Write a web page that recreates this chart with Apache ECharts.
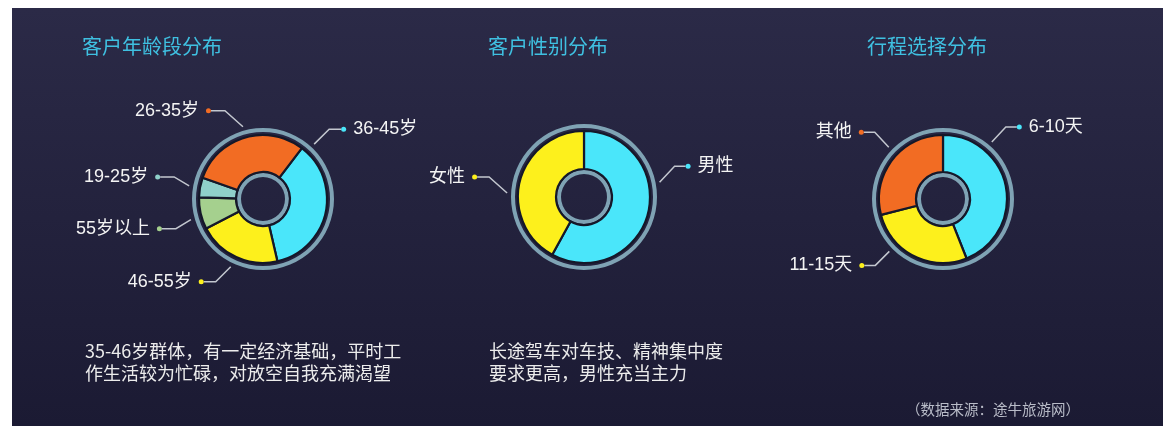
<!DOCTYPE html>
<html><head><meta charset="utf-8">
<script src="https://cdn.jsdelivr.net/npm/echarts@6/dist/echarts.min.js"></script>
<style>
html,body{margin:0;padding:0;background:#fff;width:1163px;height:426px;overflow:hidden}
#bg{position:absolute;left:12px;top:8px;right:0;bottom:0;background:linear-gradient(180deg,#2b2a47 0%,#1b1a33 100%)}
#chart{position:absolute;left:0;top:0;width:1163px;height:426px}
</style></head><body><div id="bg"></div><div id="chart"></div>
<script>
// ---------- data ----------
const ageCategories = ['36-45岁', '46-55岁', '55岁以上', '19-25岁', '26-35岁'];
const ageValues = [36, 21, 8, 5, 30];
const genderCategories = ['男性', '女性'];
const genderValues = [58, 42];
const tripCategories = ['6-10天', '11-15天', '其他'];
const tripValues = [44, 27, 29];
const chartTitles = ['客户年龄段分布', '客户性别分布', '行程选择分布'];
const noteTexts = ['35-46岁群体，有一定经济基础，平时工\n作生活较为忙碌，对放空自我充满渴望', '长途驾车对车技、精神集中度\n要求更高，男性充当主力'];
const sourceText = '（数据来源：途牛旅游网）';

// ---------- styles ----------
const CYAN = '#4ae6fa', YELLOW = '#fdf01c', GREEN = '#a5d08e', TEAL = '#8fd0ca', ORANGE = '#f26c23';
const RING = '#7fa3b4';
const LABEL_FONT = '"Liberation Sans","Noto Sans CJK SC",sans-serif';
const CJK_FONT = '"Noto Sans CJK SC",sans-serif';
const ageColors = [CYAN, YELLOW, GREEN, TEAL, ORANGE];
const genderColors = [CYAN, YELLOW];
const tripColors = [CYAN, YELLOW, ORANGE];
const ageAnchors = [{a: 43, dx: 15, dy: -15, h: 12}, {a: 205.5, dx: 15, dy: 15, h: 12}, {a: 254, dx: 15, dy: 9, h: 14}, {a: 280, dx: 15, dy: -9, h: 14}, {a: 344.5, dx: 18, dy: -16, h: 14}];
const genderAnchors = [{a: 79, dx: 15, dy: -16, h: 11}, {a: 273, dx: 18, dy: -16, h: 12}];
const tripAnchors = [{a: 40.6, dx: 14, dy: -15, h: 11}, {a: 225.7, dx: 14, dy: 14, h: 11}, {a: 313.7, dx: 14, dy: -15, h: 11}];
const titleLeft = [82, 488, 867];

function donut(c) {
  const cx = c.center[0], cy = c.center[1];
  const ring = r => ({
    type: 'pie', center: c.center, radius: r, silent: true, animation: false,
    label: {show: false}, labelLine: {show: false}, emphasis: {disabled: true},
    itemStyle: {color: RING}, data: [{value: 1, name: ''}], z: 1
  });
  const data = c.names.map((n, i) => ({name: n, value: c.values[i], itemStyle: {color: c.colors[i]}}));
  const rich = {
    t: {fontSize: 18, color: '#f4f4f4', fontFamily: LABEL_FONT, verticalAlign: 'middle', lineHeight: 22},
    sp: {width: 7}
  };
  c.colors.forEach((col, i) => { rich['d' + i] = {width: 5, height: 5, borderRadius: 2.5, backgroundColor: col, verticalAlign: 'middle'}; });
  const side = i => Math.sin(c.anchors[i].a * Math.PI / 180) >= 0 ? 1 : -1;
  const main = {
    type: 'pie', center: c.center, radius: c.pieR, startAngle: c.startAngle, clockwise: true,
    avoidLabelOverlap: false, animation: false, emphasis: {disabled: true},
    itemStyle: {borderColor: '#151829', borderWidth: 2.2},
    label: {
      show: true, position: 'outside', rich: rich,
      formatter: p => side(p.dataIndex) > 0
        ? '{d' + p.dataIndex + '|}{sp|}{t|' + p.name + '}'
        : '{t|' + p.name + '}{sp|}{d' + p.dataIndex + '|}'
    },
    labelLine: {show: true, length: 10, length2: 10, lineStyle: {color: '#c3c7cf', width: 1.5}},
    labelLayout: p => {
      const an = c.anchors[p.dataIndex];
      const rad = an.a * Math.PI / 180;
      const s = side(p.dataIndex);
      const x0 = cx + c.labelR * Math.sin(rad), y0 = cy - c.labelR * Math.cos(rad);
      const x1 = x0 + s * an.dx, y1 = y0 + an.dy;
      const x2 = x1 + s * an.h;
      return {x: x2, y: y1, align: s > 0 ? 'left' : 'right', verticalAlign: 'middle',
        labelLinePoints: [[x0, y0], [x1, y1], [x2, y1]]};
    },
    data: data, z: 2
  };
  return [ring(c.ringR), main, ring(c.innerR)];
}

const series = [].concat(
  donut({names: ageCategories, values: ageValues, colors: ageColors, anchors: ageAnchors, center: [263, 199], ringR: [67, 71], pieR: [27, 64], innerR: [22, 26], labelR: 75, startAngle: 52.6}),
  donut({names: genderCategories, values: genderValues, colors: genderColors, anchors: genderAnchors, center: [584, 197], ringR: [69, 73], pieR: [28, 66], innerR: [23, 27], labelR: 77, startAngle: 90}),
  donut({names: tripCategories, values: tripValues, colors: tripColors, anchors: tripAnchors, center: [943, 199], ringR: [67, 71], pieR: [27, 64], innerR: [22, 26], labelR: 75, startAngle: 90})
);

const chart = echarts.init(document.getElementById('chart'), null, {renderer: 'canvas'});
chart.setOption({
  backgroundColor: 'transparent',
  animation: false,
  title: chartTitles.map((t, i) => ({
    text: t, left: titleLeft[i], top: 34, padding: 0,
    textStyle: {color: '#3fc0e1', fontSize: 20, fontWeight: 'normal', fontFamily: CJK_FONT, lineHeight: 24}
  })),
  graphic: [
    {type: 'text', left: 85, top: 340, silent: true,
      style: {text: noteTexts[0], fill: '#ececec', font: '18px ' + CJK_FONT, lineHeight: 22}},
    {type: 'text', left: 489, top: 340, silent: true,
      style: {text: noteTexts[1], fill: '#ececec', font: '18px ' + CJK_FONT, lineHeight: 22}},
    {type: 'text', left: 906, top: 400, silent: true,
      style: {text: sourceText, fill: '#b9bcc8', font: '14.5px ' + CJK_FONT, lineHeight: 18}}
  ],
  series: series
});
</script></body></html>
